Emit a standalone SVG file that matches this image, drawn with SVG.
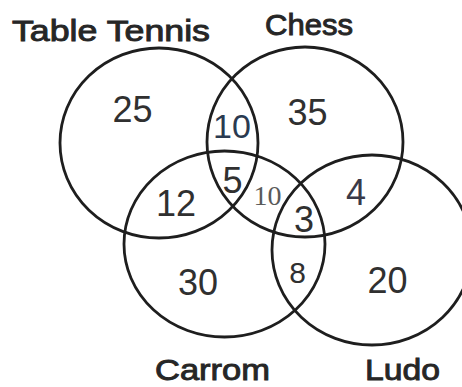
<svg xmlns="http://www.w3.org/2000/svg" width="462" height="387" viewBox="0 0 462 387">
<style>
.set{fill:none;stroke:#1e1e1e;stroke-width:2.8}
.lbl{font-family:"Liberation Sans",Arial,sans-serif;font-size:29px;fill:#262626;stroke:#262626;stroke-width:0.9}
.num{font-family:"Liberation Sans",Arial,sans-serif;font-size:36px;fill:#303030;text-anchor:middle}
.sm{font-family:"Liberation Serif","Times New Roman",serif;font-size:28px;fill:#5a5a5a;text-anchor:middle}
</style>
<rect width="462" height="387" fill="#fff"/>
<g id="table-tennis">
<ellipse class="set" cx="159" cy="143" rx="99" ry="95"/>
<text class="lbl" x="12" y="41" textLength="198" lengthAdjust="spacingAndGlyphs">Table Tennis</text>
</g>
<g id="chess">
<ellipse class="set" cx="305" cy="142" rx="98" ry="95"/>
<text class="lbl" x="265" y="35" textLength="88" lengthAdjust="spacingAndGlyphs">Chess</text>
</g>
<g id="carrom">
<ellipse class="set" cx="224.5" cy="244" rx="100.5" ry="93"/>
<text class="lbl" x="155" y="380" textLength="115" lengthAdjust="spacingAndGlyphs">Carrom</text>
</g>
<g id="ludo">
<ellipse class="set" cx="372" cy="250" rx="100" ry="95"/>
<text class="lbl" x="365" y="380" textLength="75" lengthAdjust="spacingAndGlyphs">Ludo</text>
</g>
<g id="regions">
<text class="num" x="132.5" y="122">25</text>
<text class="num" x="307.5" y="125">35</text>
<text class="num" x="232" y="138" style="font-size:34px;fill:#2a3a50">10</text>
<text class="num" x="232.5" y="193">5</text>
<text class="sm" x="267.5" y="205">10</text>
<text class="num" x="176" y="216">12</text>
<text class="num" x="356" y="205" style="fill:#3a3a48">4</text>
<text class="num" x="304" y="232">3</text>
<text class="num" x="198" y="295">30</text>
<text class="num" x="297.5" y="283" style="font-size:30px">8</text>
<text class="num" x="387.5" y="293">20</text>
</g>
</svg>
